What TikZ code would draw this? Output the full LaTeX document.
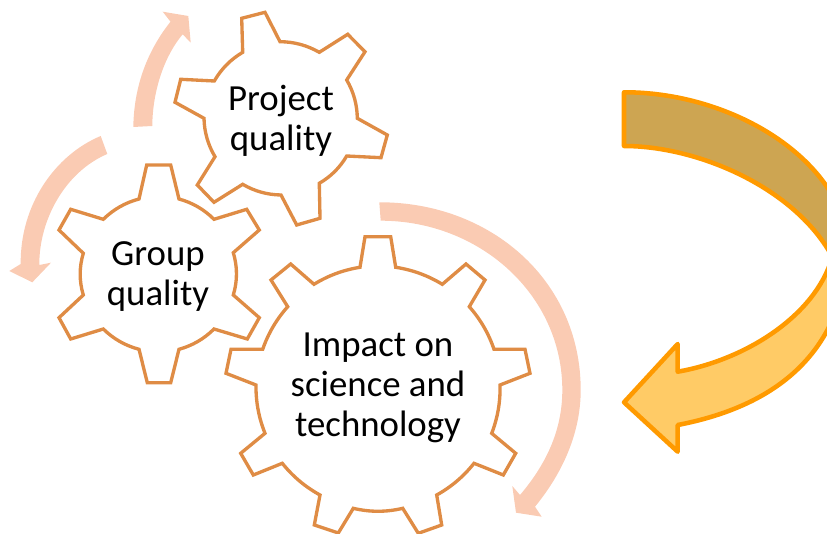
\documentclass[tikz,border=0pt]{standalone}
\usepackage{fontspec}
\setmainfont{Carlito}
\definecolor{gearline}{HTML}{DF8C45}
\definecolor{peach}{HTML}{FACBB3}
\definecolor{orangeline}{HTML}{FF9A00}
\definecolor{darkgold}{HTML}{CDA552}
\definecolor{lightgold}{HTML}{FFCB66}
\tikzset{
  gear/.style={draw=gearline,line width=2.5pt,fill=white,line join=miter,miter limit=4},
  swoosh/.style={fill=peach,draw=none},
  bigarrow/.style={draw=orangeline,line width=3.4pt,line join=round},
  label/.style={inner sep=0pt,align=center,font=\fontsize{27.6}{30.1}\selectfont,text=black}
}
% rim arc from (#1,#2) to (#3,#4), bulging outward by control offset #5 of the chord
\def\rimarc#1#2#3#4#5{.. controls ({#1+(#3-#1)/3+#5*(#4-#2)},{#2+(#4-#2)/3-#5*(#3-#1)}) and ({#1+2*(#3-#1)/3+#5*(#4-#2)},{#2+2*(#4-#2)/3-#5*(#3-#1)}) .. (#3,#4)}
\begin{document}
\begin{tikzpicture}[x=0.75pt,y=-0.75pt]
\useasboundingbox (0,0) rectangle (827,534);
\clip (0,0) rectangle (827,534);
% peach circular arrows
\path[swoosh] (133.3,127) .. controls (134,85) and (148,50) .. (170.5,21.7)
  -- (162.7,11.7) -- (188.3,16) -- (190.7,42.7) -- (182.7,34.3)
  .. controls (165,55) and (152.5,90) .. (152.3,126) -- cycle;
\path[swoosh] (100.7,136) .. controls (55,155) and (20,205) .. (20.7,264)
  -- (9.3,271) -- (32.3,282.3) -- (51,262.7) -- (39.3,265)
  .. controls (39,220) and (65,172) .. (107.3,154) -- cycle;
\path[swoosh] (379.3,202.3) .. controls (490,202) and (580.7,280) .. (580.7,390)
  .. controls (580.7,430) and (565,470) .. (535,506.7)
  -- (541.7,516.7) -- (516,512.7) -- (512.3,486) -- (520,495)
  .. controls (548,462) and (562.3,428) .. (562.3,390)
  .. controls (562.3,295) and (480,220.7) .. (380.7,220.7) -- cycle;
% gears
\path[gear] (241.7,18.3) -- (265,12.3) -- (280,41.7) \rimarc{280}{41.7}{319.3}{52.3}{.088}
  -- (347.7,34.3) -- (365,51.7) -- (346.7,80) \rimarc{346.7}{80}{357.3}{118.3}{.088}
  -- (387.3,135) -- (381,157.7) -- (346.7,156) \rimarc{346.7}{156}{319.3}{183.3}{.088}
  -- (320,218.3) -- (296.7,225) -- (281,195) \rimarc{281}{195}{242.7}{184.3}{.088}
  -- (214,202.3) -- (197.3,185) -- (215,156.7) \rimarc{215}{156.7}{204}{118.3}{.088}
  -- (175,102.3) -- (180.7,79.3) -- (214.3,81) \rimarc{214.3}{81}{242.7}{52.3}{.088}
  -- cycle;
\path[gear] (146.7,165) -- (170.7,165) -- (179,199) \rimarc{179}{199}{214}{219.3}{.088}
  -- (246.7,209.3) -- (259.3,230) -- (233.3,252.7) \rimarc{233.3}{252.7}{233.3}{295}{.1}
  -- (259.3,317.7) -- (247.3,339) -- (214,329) \rimarc{214}{329}{179}{349.3}{.088}
  -- (170.7,382.7) -- (147.3,382.7) -- (139,349.3) \rimarc{139}{349.3}{103.3}{329}{.088}
  -- (70.7,339) -- (59,317.7) -- (83.3,295) \rimarc{83.3}{295}{83.3}{253.3}{.1}
  -- (59,230) -- (70.7,209.3) -- (103.3,219.3) \rimarc{103.3}{219.3}{139}{199}{.088}
  -- cycle;
\path[gear] (365,236.7) -- (390.7,236.7) -- (395.7,267.3) \rimarc{395.7}{267.3}{442.3}{284.3}{.067}
  -- (466,264) -- (485,280) -- (469.3,306.7) \rimarc{469.3}{306.7}{494}{349.3}{.067}
  -- (525,349.3) -- (530,373.3) -- (500,385) \rimarc{500}{385}{491.7}{433.3}{.067}
  -- (515.7,453.3) -- (503.3,475) -- (474,463.3) \rimarc{474}{463.3}{436.7}{495}{.067}
  -- (441.7,525) -- (418.3,533.3) -- (402.7,508.3) \rimarc{402.7}{508.3}{353.3}{508.3}{.08}
  -- (338.3,533) -- (314.3,525) -- (320,495) \rimarc{320}{495}{282.3}{463.3}{.067}
  -- (253.3,475) -- (240.7,453.3) -- (265,433.3) \rimarc{265}{433.3}{256}{385}{.067}
  -- (226,373.3) -- (231,349.3) -- (262.7,349.3) \rimarc{262.7}{349.3}{287.7}{306.7}{.067}
  -- (271,280) -- (290.7,264) -- (314,284.3) \rimarc{314}{284.3}{360}{267.3}{.067}
  -- cycle;
% big curved arrow
\path[bigarrow,fill=darkgold] (624,92.3) .. controls (710,92) and (800,135) .. (835,200)
  -- (835,262) .. controls (800,190) and (700,146) .. (624,146) -- cycle;
\path[bigarrow,fill=lightgold] (624,402.3) -- (677.7,344) -- (677.7,371.7)
  .. controls (745,360) and (815,316) .. (832,258) -- (850,258) -- (840,300)
  .. controls (815,380) and (745,412) .. (677.7,425)
  -- (677.7,451.7) -- cycle;
% labels
\node[label] (project) at (281,120.5) {Project\\quality};
\node[label] (group) at (158,276.5) {Group\\quality};
\node[label] (impact) at (378,387.5) {Impact on\\science and\\technology};
\end{tikzpicture}
\end{document}
